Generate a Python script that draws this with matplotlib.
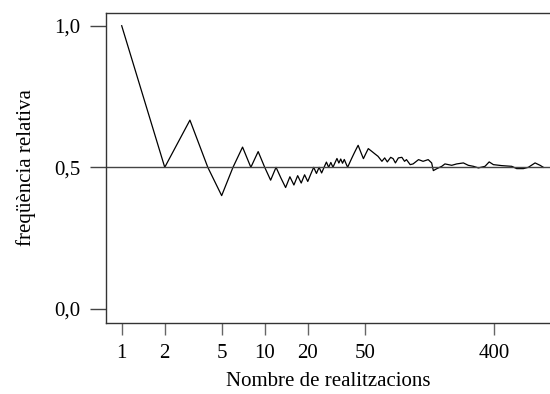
import matplotlib
matplotlib.use("Agg")
import matplotlib.pyplot as plt
from matplotlib.ticker import FixedLocator, FixedFormatter, NullLocator

# cumulative count of successes for the first 53 trials
early_heads = [1, 1, 2, 2, 2, 3, 4, 4, 5, 5, 5, 6, 6, 6, 7, 7, 8, 8, 9, 9,
               10, 11, 11, 12, 12, 13, 14, 14, 15, 15, 16, 17, 17, 18, 18, 19,
               19, 19, 20, 21, 22, 23, 24, 25, 26, 26, 26, 26, 26, 27, 28, 29, 30]

# relative frequency read at later trial numbers
late_n = [56, 59, 62, 66, 69, 72, 76, 79, 82, 86, 91, 95, 98, 104, 109, 119,
          128, 139, 147, 151, 160, 173, 182, 203, 220, 245, 265, 288, 312,
          347, 371, 397, 454, 534, 578, 643, 697, 777, 842, 888]
late_freq = [0.5565, 0.5473, 0.5388, 0.5212, 0.5332, 0.5191, 0.5353, 0.5307,
             0.5155, 0.5332, 0.5353, 0.5212, 0.5272, 0.5095, 0.5120, 0.5272,
             0.5212, 0.5272, 0.5155, 0.4884, 0.4954, 0.5035, 0.5120, 0.5071,
             0.5120, 0.5155, 0.5071, 0.5035, 0.4979, 0.5035, 0.5191, 0.5095,
             0.5060, 0.5035, 0.4954, 0.4954, 0.5000, 0.5155, 0.5071, 0.5000]

x_ticks = [1, 2, 5, 10, 20, 50, 400]
x_ticklabels = ["1", "2", "5", "10", "20", "50", "400"]
y_ticks = [0.0, 0.5, 1.0]
y_ticklabels = ["0,0", "0,5", "1,0"]

n_early = list(range(1, len(early_heads) + 1))
f_early = [h / n for h, n in zip(early_heads, n_early)]
trials = n_early + late_n
freq = f_early + late_freq

plt.rcParams['font.family'] = ['Liberation Serif', 'DejaVu Serif']
fig = plt.figure(figsize=(5.5, 3.94), dpi=100)
ax = fig.add_axes([105.7 / 550, 1 - 322.5 / 394, 1 - 105.7 / 550, (322.5 - 12.7) / 394])

ax.plot(trials, freq, color='black', lw=0.9)
ax.axhline(0.5, color='#444444', lw=1.0)

ax.set_xscale('log')
ax.set_xlim(0.773, 988)
ax.set_ylim(-0.048, 1.046)

ax.xaxis.set_major_locator(FixedLocator(x_ticks))
ax.xaxis.set_major_formatter(FixedFormatter(x_ticklabels))
ax.xaxis.set_minor_locator(NullLocator())
ax.set_yticks(y_ticks)
ax.set_yticklabels(y_ticklabels)

for s in ['left', 'bottom', 'top']:
    ax.spines[s].set_color('#333333')
    ax.spines[s].set_linewidth(1.0)
ax.spines['right'].set_visible(False)

ax.tick_params(axis='x', length=8.6, width=1.0, color='#666666', labelsize=15, pad=7)
ax.tick_params(axis='y', length=11.5, width=1.0, color='#444444', labelsize=15, pad=7)

ax.set_xlabel("Nombre de realitzacions", fontsize=15, labelpad=6)
ax.set_ylabel("freqüència relativa", fontsize=15, labelpad=13)

fig.savefig("out.png", dpi=100)
